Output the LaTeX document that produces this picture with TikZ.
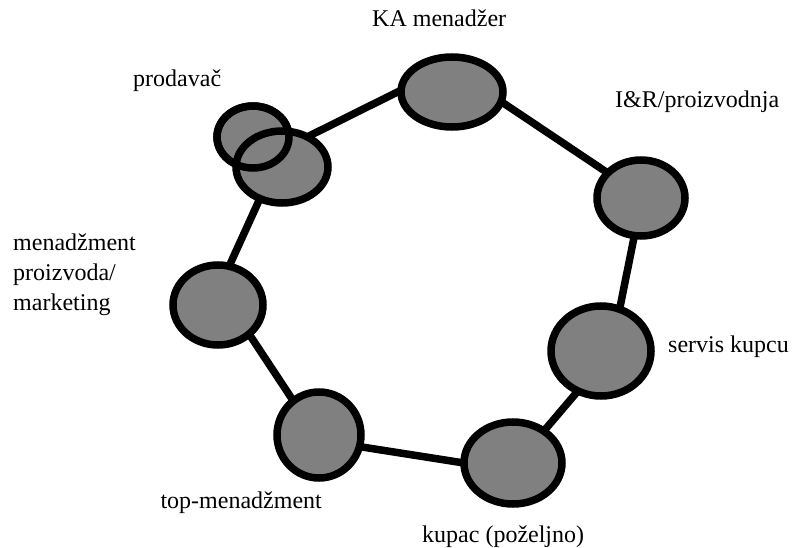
\documentclass[tikz,border=0pt]{standalone}
\usepackage{fontspec}
\setmainfont{Liberation Serif}
\newfontfamily\lblfont{Liberation Serif}
\usetikzlibrary{shapes.geometric,backgrounds}
\definecolor{bubble}{RGB}{128,128,128}
\tikzset{
  bub/.style={ellipse, draw=black, fill=bubble, line width=7.5pt, inner sep=0pt, outer sep=0pt},
  link/.style={draw=black, line width=7.5pt},
  lbl/.style={inner sep=0pt, anchor=base west, font=\lblfont\fontsize{24}{30}\selectfont}
}
\begin{document}
\begin{tikzpicture}[x=1pt,y=-1pt]
\useasboundingbox (0,0) rectangle (795,548);
% bubbles
\node[bub, minimum width=102pt, minimum height=70pt] (ka) at (452,92) {};
\node[bub, minimum width=88pt, minimum height=76pt] (ir) at (641,198) {};
\node[bub, minimum width=100pt, minimum height=90pt] (sk) at (601,351) {};
\node[bub, minimum width=98pt, minimum height=82pt] (ku) at (513,463) {};
\node[bub, minimum width=84pt, minimum height=86pt] (tm) at (319,435) {};
\node[bub, minimum width=90pt, minimum height=80pt] (mp) at (218,305) {};
\node[bub, minimum width=72pt, minimum height=62pt] (p1) at (253,137) {};
\node[bub, minimum width=92pt, minimum height=72pt] (p2) at (282,167) {};
\draw[line width=7.5pt] (p1.center) ellipse [x radius=36pt, y radius=31pt];
% connectors
\begin{pgfonlayer}{background}
\draw[link] (ka.178) -- (p2.50);
\draw[link] (ka.-11) -- (ir.143);
\draw[link] (ir.-100) -- (sk.66);
\draw[link] (sk.-120) -- (ku.46);
\draw[link] (ku.180) -- (tm.-16);
\draw[link] (tm.127) -- (mp.-43);
\draw[link] (mp.74) -- (p2.-125);
\end{pgfonlayer}
% labels
\node[lbl] (tka) at (372,27) {KA menadžer};
\node[lbl] (tir) at (615,108) {I\&R/proizvodnja};
\node[lbl] (tpr) at (133,87) {prodavač};
\node[lbl, align=left, anchor=north west] (tmp) at (13,234) {menadžment\\proizvoda/\\marketing};
\node[lbl] (tsk) at (668,352) {servis kupcu};
\node[lbl, anchor=base east] (ttm) at (322,508) {top-menadžment};
\node[lbl] (tku) at (422,542) {kupac (poželjno)};
\end{tikzpicture}
\end{document}
